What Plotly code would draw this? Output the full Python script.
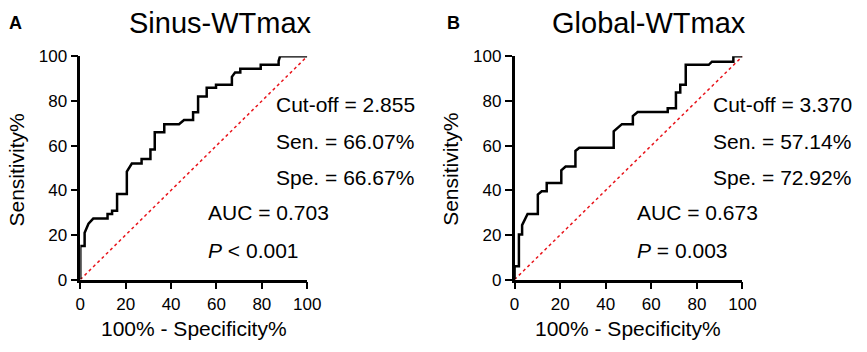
import plotly.graph_objects as go

# ---- data ----
sinus_fpr = [0, 0, 1.9, 1.9, 3.6, 5.7, 12.0, 12.0, 14.0, 14.0, 16.2, 16.2, 20.5, 20.5, 22.7,
             27.0, 27.0, 30.9, 30.9, 32.8, 32.8, 37.0, 37.0, 43.5, 45.7, 49.7, 49.7, 51.9, 51.9,
             55.7, 55.7, 59.8, 59.8, 66.8, 66.8, 68.2, 70.5, 70.5, 79.5, 79.5, 87.4, 87.4, 88.0, 100]
sinus_tpr = [0, 15.0, 15.0, 21.0, 25.0, 27.3, 27.3, 29.4, 29.4, 30.8, 30.8, 38.3, 38.3, 48.4, 52.0,
             52.0, 54.0, 54.0, 58.3, 58.3, 66.0, 66.0, 69.6, 69.6, 71.5, 71.5, 74.9, 74.9, 82.0,
             82.0, 85.9, 85.9, 87.3, 87.3, 90.8, 92.7, 92.7, 94.4, 94.4, 96.2, 96.2, 97.9, 100, 100]

global_fpr = [0, 0, 1.9, 1.9, 3.3, 3.3, 5.7, 10.2, 10.2, 11.9, 14.1, 14.1, 20.5, 20.5, 22.4,
              26.7, 26.7, 28.4, 43.5, 43.5, 47.1, 51.9, 51.9, 54.0, 67.2, 67.2, 70.8, 70.8,
              72.7, 72.7, 75.1, 75.1, 85.2, 86.6, 96.0, 96.0, 100]
global_tpr = [0, 6.0, 6.0, 20.2, 20.2, 24.4, 29.4, 29.4, 38.1, 39.5, 39.5, 43.2, 43.2, 48.9, 50.6,
              50.6, 57.6, 59.0, 59.0, 66.4, 69.6, 69.6, 73.2, 75.0, 75.0, 76.7, 76.7, 83.8,
              83.8, 87.3, 87.3, 96.2, 96.2, 97.6, 97.6, 100, 100]

panel_titles = ["Sinus-WTmax", "Global-WTmax"]
panel_letters = ["A", "B"]
stats_left = ["Cut-off = 2.855", "Sen. = 66.07%", "Spe. = 66.67%", "AUC = 0.703", "<i>P</i> &lt; 0.001"]
stats_right = ["Cut-off = 3.370", "Sen. = 57.14%", "Spe. = 72.92%", "AUC = 0.673", "<i>P</i> = 0.003"]
tick_vals = [0, 20, 40, 60, 80, 100]
ref_line = [0, 100]

W, H = 867, 352
FONT = "Arial, Liberation Sans, sans-serif"

def px(x):
    return x / W

def py(y):
    return 1 - y / H

fig = go.Figure()

for xa, ya in (("x", "y"), ("x2", "y2")):
    fig.add_trace(go.Scatter(x=ref_line, y=ref_line, mode="lines",
                             line=dict(color="#e8141b", width=1.5, dash="dot"),
                             xaxis=xa, yaxis=ya, showlegend=False, cliponaxis=False,
                             hoverinfo="skip"))
fig.add_trace(go.Scatter(x=sinus_fpr, y=sinus_tpr, mode="lines",
                         line=dict(color="black", width=2.5),
                         xaxis="x", yaxis="y", showlegend=False, cliponaxis=False))
fig.add_trace(go.Scatter(x=global_fpr, y=global_tpr, mode="lines",
                         line=dict(color="black", width=2.5),
                         xaxis="x2", yaxis="y2", showlegend=False, cliponaxis=False))

axis_common = dict(range=[0, 100], tickvals=tick_vals, ticks="outside", ticklen=7, tickwidth=2,
                   tickcolor="black", showline=True, linecolor="black", linewidth=2.5,
                   showgrid=False, zeroline=False, tickfont=dict(family=FONT, size=17, color="black"))

ydom = [py(286), py(50)]
fig.update_layout(
    width=W, height=H, margin=dict(l=0, r=0, t=0, b=0),
    paper_bgcolor="white", plot_bgcolor="white",
    xaxis=dict(domain=[px(77), px(309)], anchor="y", **axis_common),
    yaxis=dict(domain=ydom, anchor="x", **axis_common),
    xaxis2=dict(domain=[px(521), px(754)], anchor="y2", **axis_common),
    yaxis2=dict(domain=ydom, anchor="x2", **axis_common),
)

ann = []
def add_text(text, x, y, size, xanchor="center", yanchor="middle", textangle=0):
    ann.append(dict(text=text, x=px(x), y=py(y), xref="paper", yref="paper",
                    xanchor=xanchor, yanchor=yanchor, showarrow=False, textangle=textangle,
                    font=dict(family=FONT, size=size, color="black")))

add_text(panel_titles[0], 220, 15, 29)
add_text(panel_titles[1], 658, 15, 29)
add_text("<b>%s</b>" % panel_letters[0], 11, 15, 18)
add_text("<b>%s</b>" % panel_letters[1], 459, 15, 18)

add_text("100% - Specificity%", 193, 338, 21)
add_text("100% - Specificity%", 637, 338, 21)
add_text("Sensitivity%", 12, 170, 21, textangle=-90)
add_text("Sensitivity%", 456, 170, 21, textangle=-90)

for i, ys in enumerate([101, 140, 178]):
    add_text(stats_left[i], 275, ys, 21, xanchor="left")
    add_text(stats_right[i], 722, ys, 21, xanchor="left")
for j, ys in enumerate([215, 255]):
    add_text(stats_left[3 + j], 206, ys, 21, xanchor="left")
    add_text(stats_right[3 + j], 644, ys, 21, xanchor="left")

fig.update_layout(annotations=ann)
fig.write_html("out.html",
               config={"displayModeBar": False},
               post_script="document.body.style.margin='0';document.body.style.overflow='hidden';")
